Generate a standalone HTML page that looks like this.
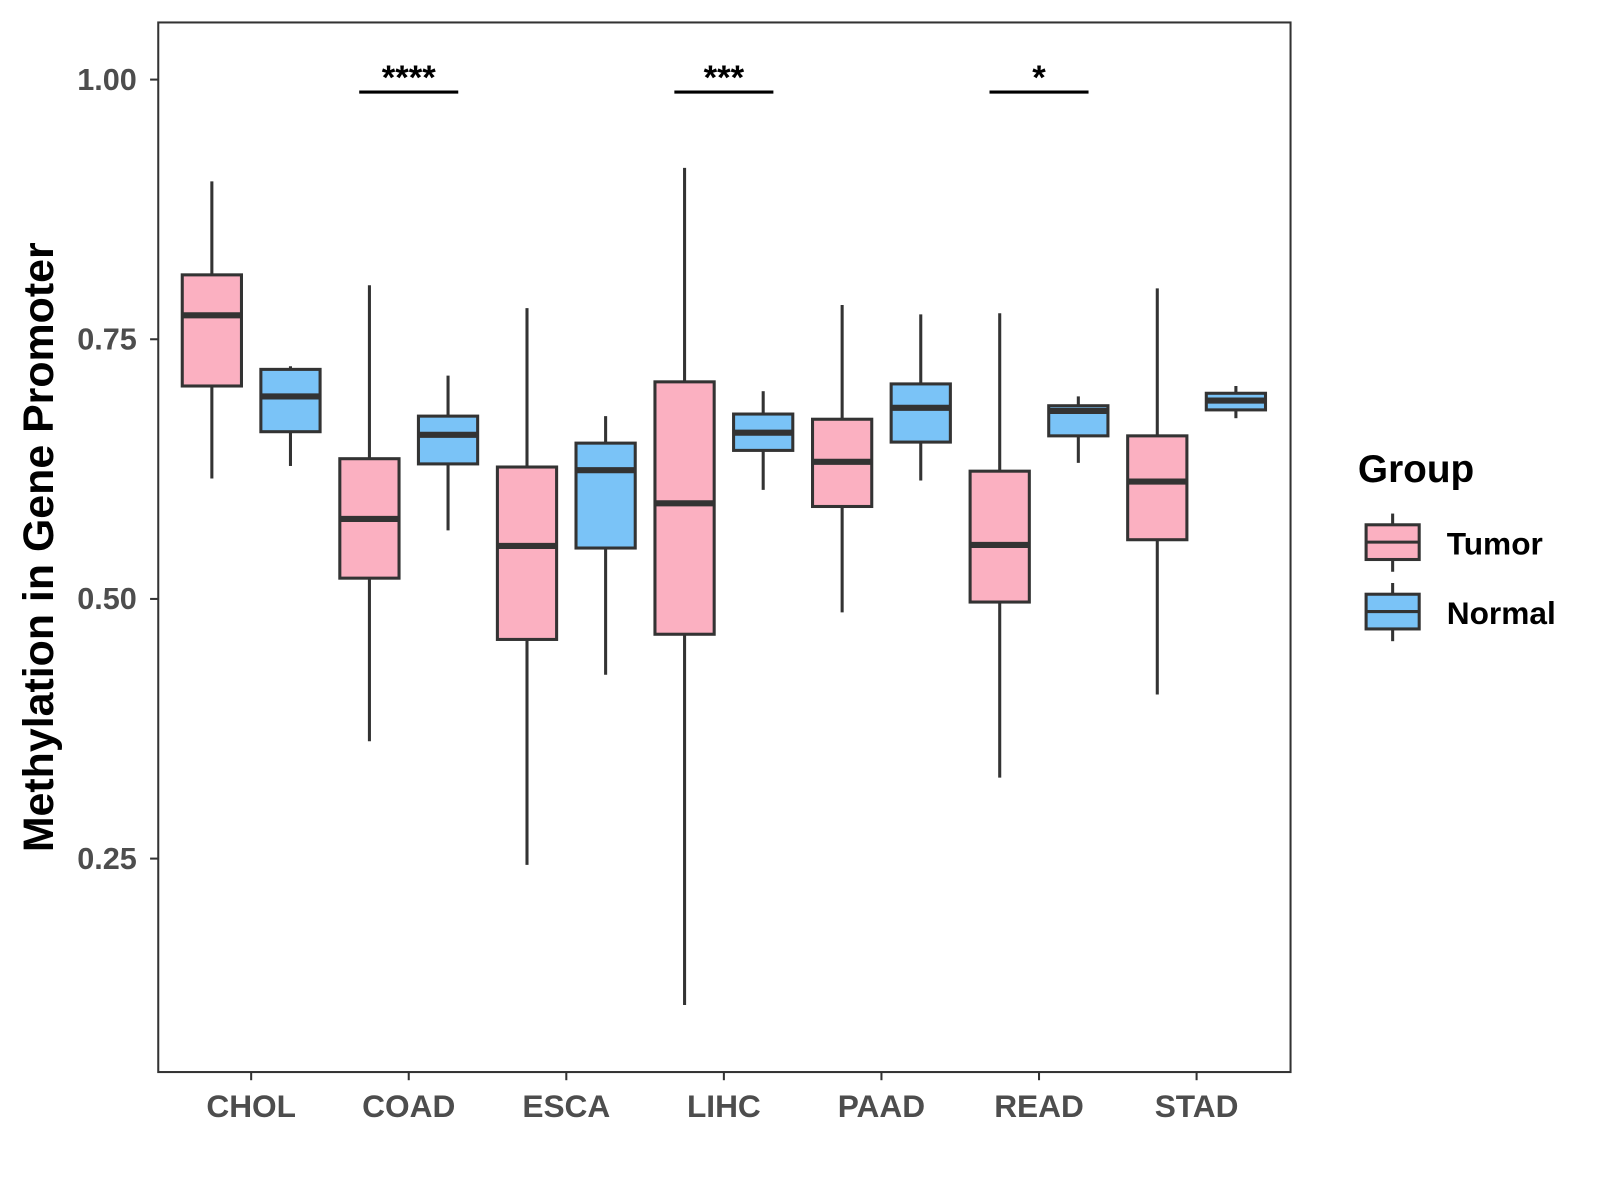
<!DOCTYPE html>
<html><head><meta charset="utf-8"><style>
body{margin:0;background:#fff}
svg{display:block}
text{font-family:"Liberation Sans",sans-serif;font-weight:bold}
</style></head><body>
<svg id="chart" width="1600" height="1200" viewBox="0 0 1600 1200">
<g transform="scale(1.021)">
<rect x="155" y="22" width="1109" height="1028" fill="#fff" stroke="#333" stroke-width="2"/>
<g id="marks"></g>
<g id="axes"></g>
<text transform="translate(52,536) rotate(-90)" text-anchor="middle" font-size="42" fill="#000">Methylation in Gene Promoter</text>
<g>
<text x="1330" y="472" font-size="38" fill="#000">Group</text>
<g>
<line x1="1364" y1="503" x2="1364" y2="560" stroke="#333" stroke-width="3"/>
<rect x="1338" y="514" width="52" height="34" fill="#FBB0C1" stroke="#333" stroke-width="3"/>
<line x1="1338" y1="531" x2="1390" y2="531" stroke="#333" stroke-width="3"/>
<text x="1417" y="543" font-size="31" fill="#000">Tumor</text></g>
<g>
<line x1="1364" y1="571" x2="1364" y2="628" stroke="#333" stroke-width="3"/>
<rect x="1338" y="582" width="52" height="34" fill="#7AC3F7" stroke="#333" stroke-width="3"/>
<line x1="1338" y1="599" x2="1390" y2="599" stroke="#333" stroke-width="3"/>
<text x="1417" y="611" font-size="31" fill="#000">Normal</text></g>
</g>
</g>
</svg>
<script>
const categories=["CHOL","COAD","ESCA","LIHC","PAAD","READ","STAD"];
// [low, q1, median, q3, high]
const tumorStats=[[0.616,0.705,0.773,0.812,0.902],[0.363,0.520,0.577,0.635,0.802],[0.244,0.461,0.551,0.627,0.780],[0.109,0.466,0.592,0.709,0.915],[0.487,0.589,0.632,0.673,0.783],[0.328,0.497,0.552,0.623,0.775],[0.408,0.557,0.613,0.657,0.799]];
const normalStats=[[0.628,0.661,0.695,0.721,0.724],[0.566,0.630,0.658,0.676,0.715],[0.427,0.549,0.624,0.650,0.676],[0.605,0.643,0.660,0.678,0.700],[0.614,0.651,0.684,0.707,0.774],[0.631,0.657,0.681,0.686,0.695],[0.674,0.682,0.691,0.698,0.705]];
const yTicks=[0.25,0.5,0.75,1.0];
const yTickLabels=["0.25","0.50","0.75","1.00"];
const signifCats=["COAD","LIHC","READ"];
const signifLabels=["****","***","*"];
const signifY=0.988;
const NS="http://www.w3.org/2000/svg";
const yMin=0.0445,yMax=1.055,pTop=22,pBot=1050;
function y(v){return pBot-(v-yMin)/(yMax-yMin)*(pBot-pTop);}
function x(i){return 246+i*154.33;}
function mk(tag,attrs,parent){const e=document.createElementNS(NS,tag);for(const k in attrs)e.setAttribute(k,attrs[k]);parent.appendChild(e);return e;}
const marks=document.getElementById('marks'),axes=document.getElementById('axes');
function drawBox(cx,s,fill,name){
 const g=mk('g',{},marks);
 
 
 const w=58;
 mk('line',{x1:cx,x2:cx,y1:y(s[4]),y2:y(s[3]),stroke:'#333','stroke-width':3},g);
 mk('line',{x1:cx,x2:cx,y1:y(s[1]),y2:y(s[0]),stroke:'#333','stroke-width':3},g);
 mk('rect',{x:cx-w/2,y:y(s[3]),width:w,height:y(s[1])-y(s[3]),fill:fill,stroke:'#333','stroke-width':3},g);
 mk('line',{x1:cx-w/2,x2:cx+w/2,y1:y(s[2]),y2:y(s[2]),stroke:'#333','stroke-width':6},g);
}
categories.forEach((c,i)=>{
 drawBox(x(i)-38.5,tumorStats[i],'#FBB0C1','box-tumor-'+c.toLowerCase());
 drawBox(x(i)+38.5,normalStats[i],'#7AC3F7','box-normal-'+c.toLowerCase());
 mk('line',{x1:x(i),x2:x(i),y1:1050,y2:1058,stroke:'#333','stroke-width':2},axes);
 const t=mk('text',{x:x(i),y:1094,'text-anchor':'middle','font-size':31,fill:'#4d4d4d'},axes);
 t.textContent=c;
 
 
});
yTicks.forEach((v,i)=>{
 mk('line',{x1:147,x2:155,y1:y(v),y2:y(v),stroke:'#333','stroke-width':2},axes);
 const t=mk('text',{x:134,y:y(v)+10,'text-anchor':'end','font-size':30,fill:'#4d4d4d'},axes);
 t.textContent=yTickLabels[i];
 
 
});
signifCats.forEach((c,k)=>{
 const i=categories.indexOf(c);
 const g=mk('g',{},marks);
 
 
 mk('line',{x1:x(i)-48.5,x2:x(i)+48.5,y1:y(signifY),y2:y(signifY),stroke:'#000','stroke-width':3},g);
 const t=mk('text',{x:x(i),y:y(signifY)-3,'text-anchor':'middle','font-size':34,fill:'#000'},g);
 t.textContent=signifLabels[k];
});
</script>
</body></html>
